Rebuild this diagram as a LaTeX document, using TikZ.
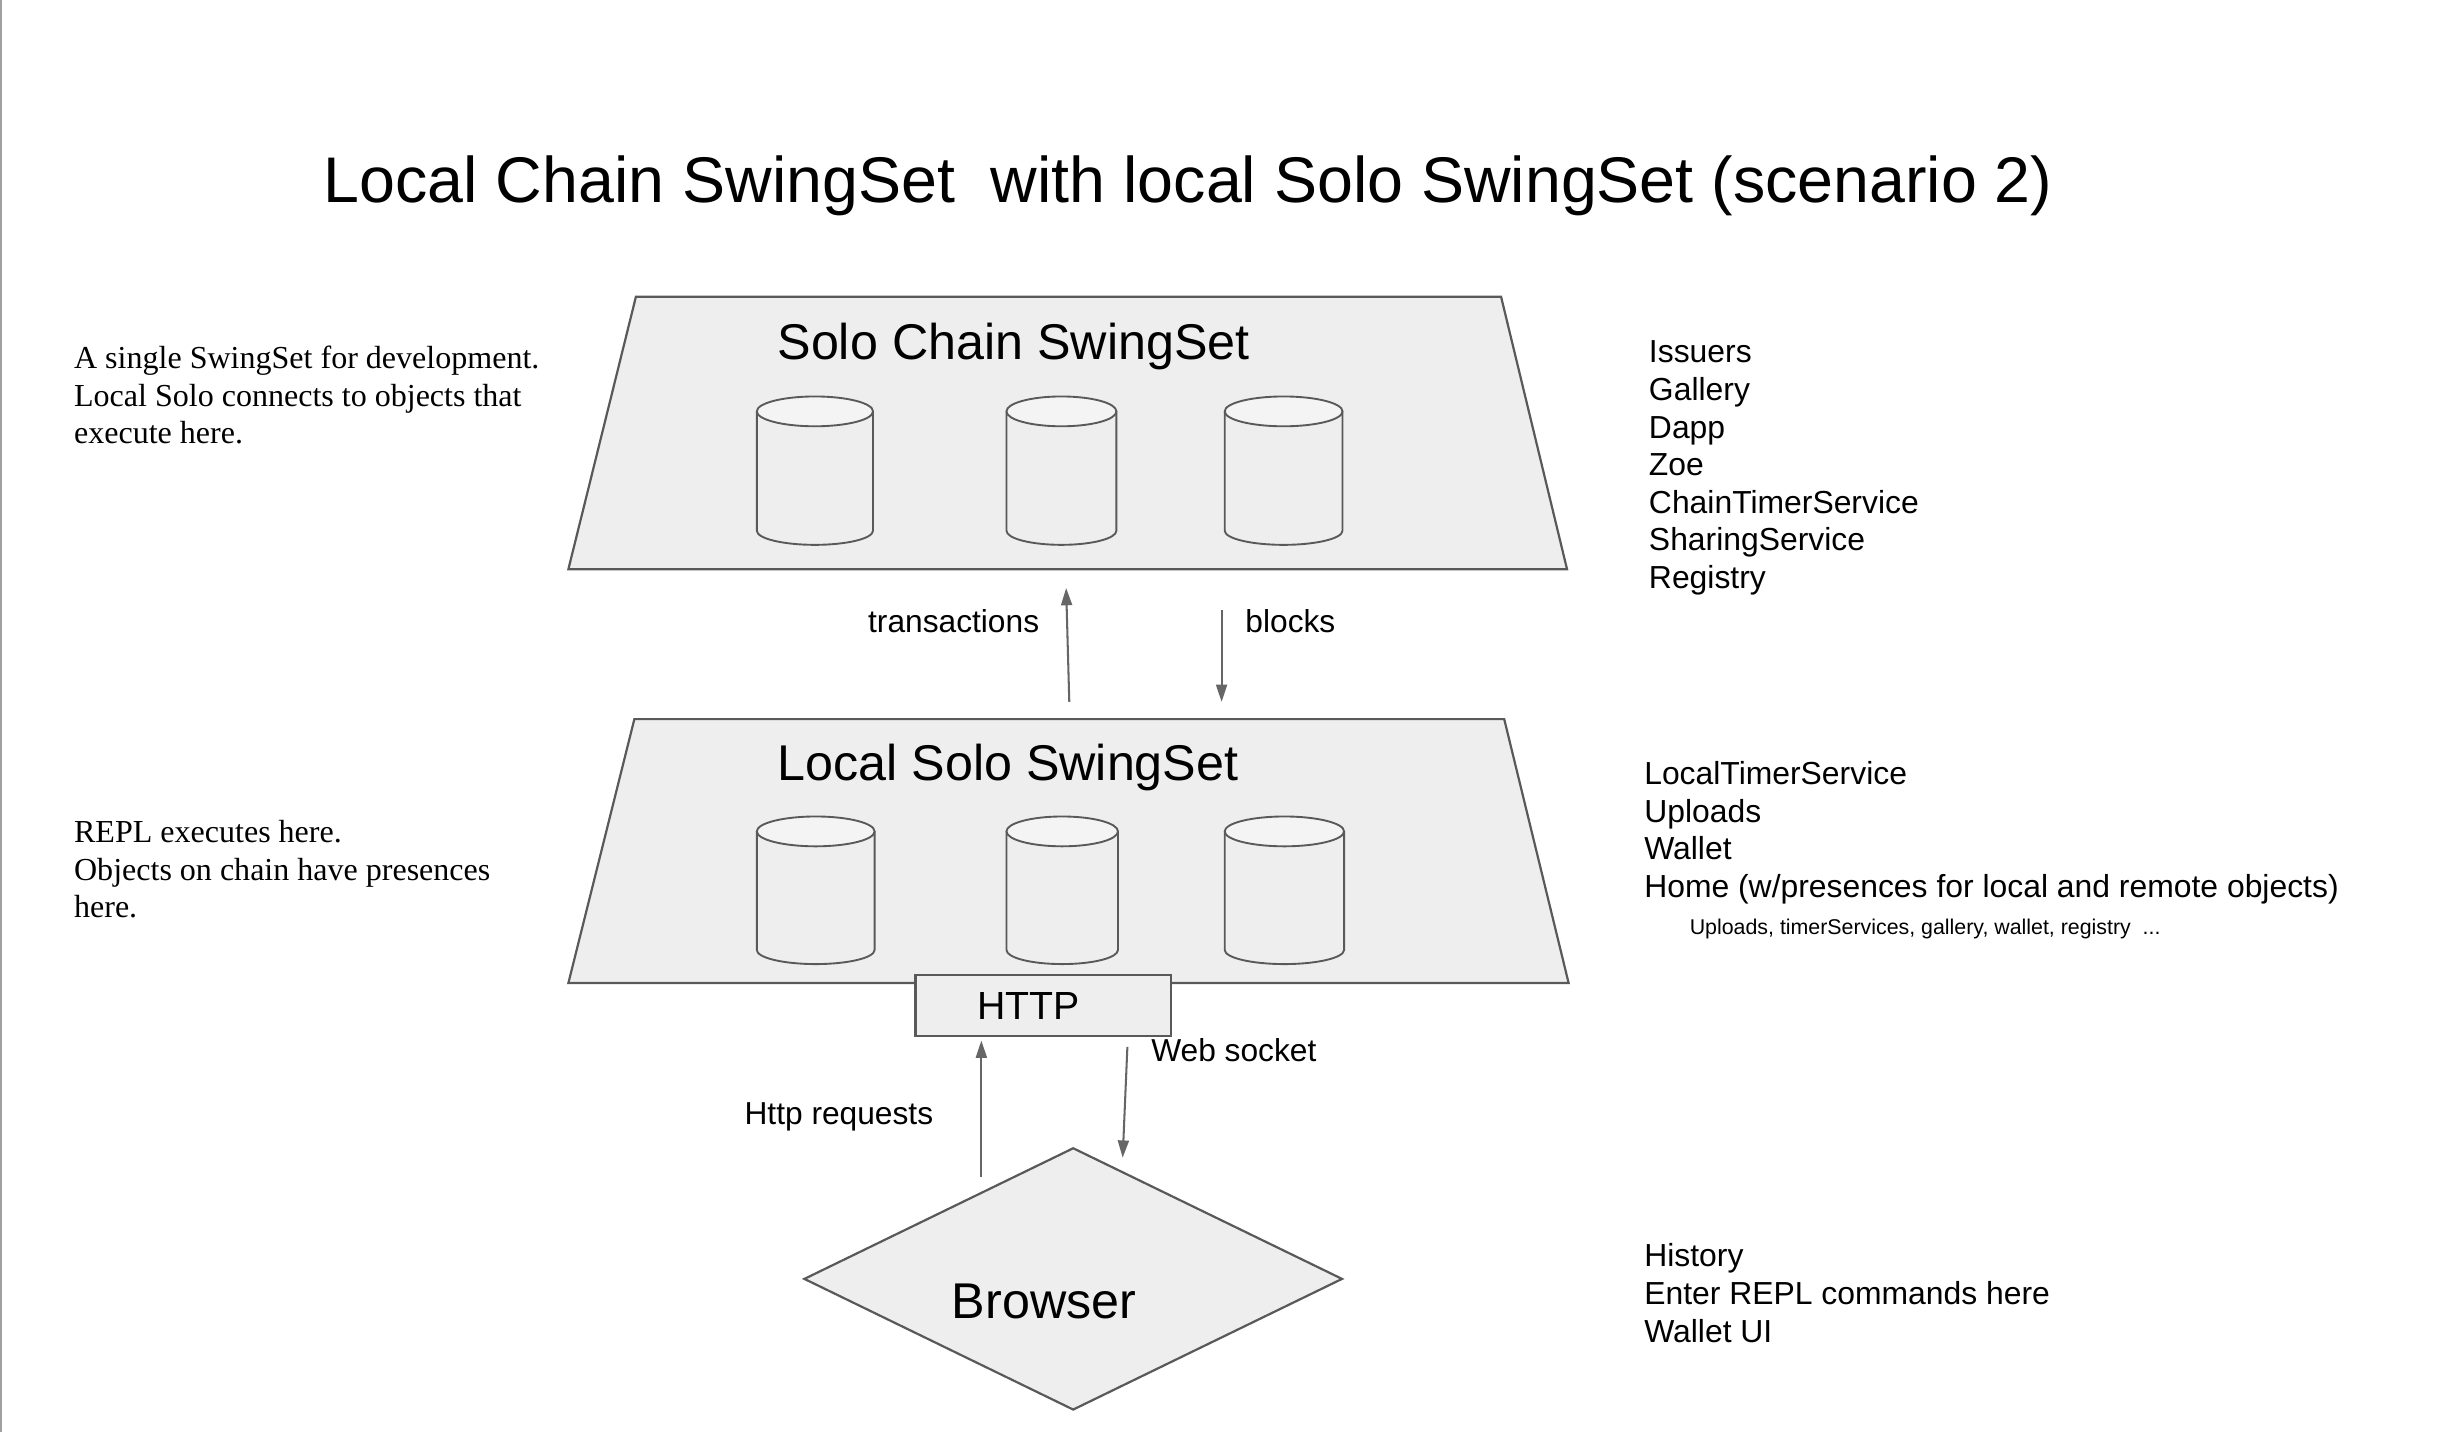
\documentclass[tikz,border=0pt]{standalone}
\usepackage{fontspec}
\setmainfont{Liberation Serif}
\setsansfont{Liberation Sans}
\usetikzlibrary{shapes.geometric,arrows.meta}
\definecolor{fillg}{HTML}{EEEEEE}
\definecolor{lineg}{HTML}{595959}
\definecolor{arrg}{HTML}{666666}
\definecolor{topg}{HTML}{F4F4F4}
\definecolor{edgeg}{HTML}{A0A0A0}
% cylinder: centre x, top y, bottom y, x radius
\newcommand\mydrum[4]{%
  \filldraw[drumst] ({#1-#4},{#2+9.5}) -- ({#1-#4},{#3-9}) arc[start angle=180, end angle=0, x radius=#4, y radius=9] -- ({#1+#4},{#2+9.5});
  \filldraw[drumst, fill=topg] (#1,{#2+9.5}) ellipse [x radius=#4, y radius=9.5];}
\begin{document}
\begin{tikzpicture}[x=1pt,y=-1pt,
  layer/.style={draw=lineg, line width=1.4pt, fill=fillg, line join=miter},
  drumst/.style={draw=lineg, line width=1.2pt, fill=fillg},
  box/.style={rectangle, draw=lineg, line width=1.4pt, fill=fillg, inner sep=0pt, font=\sffamily\fontsize{25}{30}\selectfont},
  arr/.style={draw=arrg, line width=1.3pt, -{Triangle[length=11pt,width=7pt]}},
  snote/.style={font=\sffamily\fontsize{20.3}{23.9}\selectfont, align=left, inner sep=0pt, anchor=north west},
  rnote/.style={font=\rmfamily\fontsize{20.4}{24.1}\selectfont, align=left, inner sep=0pt, anchor=north west},
  lbl/.style={font=\sffamily\fontsize{20.2}{24}\selectfont, inner sep=0pt},
  big/.style={font=\sffamily\fontsize{32}{38}\selectfont}
]
\useasboundingbox (0,0) rectangle (1568,912);
\fill[white] (0,0) rectangle (1568,912);
\draw[edgeg, line width=1.5pt] (0.75,0) -- (0.75,912);

% title
\node[font=\sffamily\fontsize{41.1}{48}\selectfont, inner sep=0pt, anchor=base west] (title) at (206,129) {Local Chain SwingSet\ \ with local Solo SwingSet (scenario 2)};

% layers
\draw[layer] (405,189) -- (956,189) -- (998,362.5) -- (362,362.5) -- cycle;
\coordinate (hiS) at (680,362.5);
\node[big, inner sep=0pt, anchor=base west] (hit) at (495,229) {Solo Chain SwingSet};

\draw[layer] (404,458) -- (958,458) -- (999,626) -- (362,626) -- cycle;
\coordinate (loN) at (681,458);
\node[big, inner sep=0pt, anchor=base west] (lot) at (495,497) {Local Solo SwingSet};

% cylinders
\mydrum{519}{252.5}{347}{37}
\mydrum{676}{252.5}{347}{35}
\mydrum{817.5}{252.5}{347}{37.5}
\mydrum{519.5}{520}{614}{37.5}
\mydrum{676.5}{520}{614}{35.5}
\mydrum{818}{520}{614}{38}

% HTTP box
\node[box, minimum width=163pt, minimum height=39pt] (http) at (664.5,640.5) {\hbox to 84pt{HTTP\hfil}};

% browser
\node[diamond, draw=lineg, line width=1.4pt, fill=fillg, inner sep=1pt, minimum width=343pt, minimum height=167pt, aspect=2.05] (br) at (683.5,814.5) {};
\node[big, inner sep=0pt, anchor=base west] (brt) at (606,840) {Browser};

% arrows
\draw[arr] ([shift={(0,-11)}]loN) -- ([shift={(-1,12)}]hiS);
\draw[arr] ([shift={(98,26)}]hiS) -- ([shift={(97,-11)}]loN);
\draw[arr] ([shift={(-58.5,19)}]br.north) -- ([shift={(-39.5,2)}]http.south);
\draw[arr] ([shift={(53.5,6)}]http.south) -- ([shift={(31.5,7)}]br.north);

\node[lbl, anchor=base east] (ltx) at (662,403) {transactions};
\node[lbl, anchor=base west] (lbk) at (793,403) {blocks};
\node[lbl, anchor=base west] (lws) at (733,676) {Web socket};
\node[lbl, anchor=base west] (lhr) at (474,716) {Http requests};

% left notes
\node[rnote] (n1) at (47,220) {A single SwingSet for development.\\Local Solo connects to objects that\\execute here.};
\node[rnote] (n2) at (47,522) {REPL executes here.\\Objects on chain have presences\\here.};

% right notes
\node[snote] (r1) at (1050,217) {Issuers\\Gallery\\Dapp\\Zoe\\ChainTimerService\\SharingService\\Registry};
\node[snote] (r2) at (1047,485) {LocalTimerService\\Uploads\\Wallet\\Home (w/presences for local and remote objects)};
\node[font=\sffamily\fontsize{13.6}{16}\selectfont, inner sep=0pt, anchor=north west] (r3) at (1076,585) {Uploads, timerServices, gallery, wallet, registry\ \ ...};
\node[snote] (r4) at (1047,792) {History\\Enter REPL commands here\\Wallet UI};
\end{tikzpicture}
\end{document}
